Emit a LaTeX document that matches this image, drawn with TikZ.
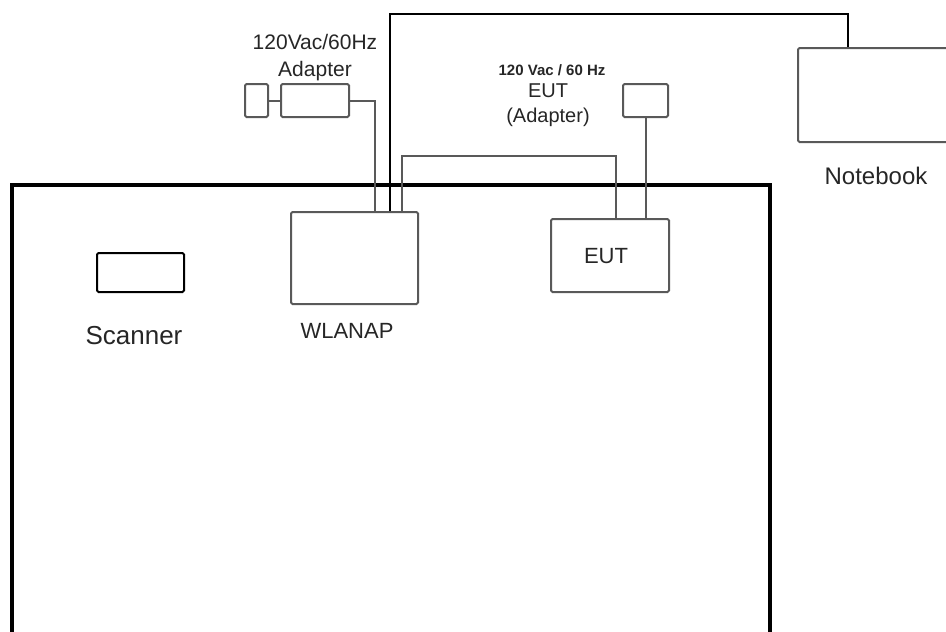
\documentclass[tikz,border=0pt]{standalone}
\usepackage{fontspec}
\setmainfont{Liberation Sans}
\usetikzlibrary{positioning,calc}

\begin{document}
\begin{tikzpicture}[
  x=1pt, y=-1pt,
  every node/.style={font=\fontsize{21}{27}\selectfont, text=black!85, inner sep=0pt},
  unit/.style={draw=black!65, rounded corners=1.5pt, line width=2pt},
  wire/.style={draw=black!65, line width=2pt},
  lan/.style={draw=black, line width=1.6pt},
  room/.style={draw=black, line width=4.5pt}
]
\useasboundingbox (0,0) rectangle (946,632);

% test room (open at the bottom of the page)
\draw[room] (12,640) -- (12,185) -- (770,185) -- (770,640);

% devices
\node[unit, draw=black, minimum width=87pt, minimum height=39pt] (scan) at (140.5,272.5) {};
\node[unit, minimum width=127pt, minimum height=92pt] (wlan) at (354.5,258) {};
\node[unit, minimum width=118pt, minimum height=73pt] (eut) at (610,255.5) {};
\node[unit, minimum width=170pt, minimum height=94pt, anchor=north west] (nb) at (797,47) {};

% adapters
\node[unit, minimum width=23pt, minimum height=33pt] (plug) at (256.5,100.5) {};
\node[unit, minimum width=68pt, minimum height=33pt, right=11pt of plug] (adp) {};
\node[unit, minimum width=45pt, minimum height=33pt] (eutadp) at (645.5,100.5) {};

% labels
\node[font=\fontsize{26}{30}\selectfont] (scanlbl) at (134,336) {Scanner};
\node[font=\fontsize{22}{26}\selectfont] (wlanlbl) at (347,331) {WLANAP};
\node[font=\fontsize{22}{26}\selectfont] (eutlbl) at (606,256) {EUT};
\node[font=\fontsize{24}{28}\selectfont] (nblbl) at (876,176) {Notebook};
\node[align=center] (adplbl) at (315,58) {120Vac/60Hz\\Adapter};
\node[font=\bfseries\fontsize{15}{18}\selectfont] (eutvolt) at (552,70) {120 Vac / 60 Hz};
\node[align=center, font=\fontsize{20}{25}\selectfont] (eutadplbl) at (548,105) {EUT\\(Adapter)};

% cable ends on the access point and the EUT
\coordinate (w1) at ($(wlan.north west)+(85,0)$);
\coordinate (w2) at ($(wlan.north west)+(100,0)$);
\coordinate (w3) at ($(wlan.north west)+(112,0)$);
\coordinate (e1) at ($(eut.north west)+(66,0)$);
\coordinate (n1) at ($(nb.north west)+(51,0)$);

\draw[wire] (plug.east) -- (adp.west);
\draw[wire] (adp.east) -| (w1);
\draw[lan] (w2) -- ++(0,-197) -| (n1);
\draw[wire] (w3) -- ++(0,-55) -| (e1);
\draw[wire] (eutadp.south) -- (eutadp.south |- eut.north);
\end{tikzpicture}
\end{document}
